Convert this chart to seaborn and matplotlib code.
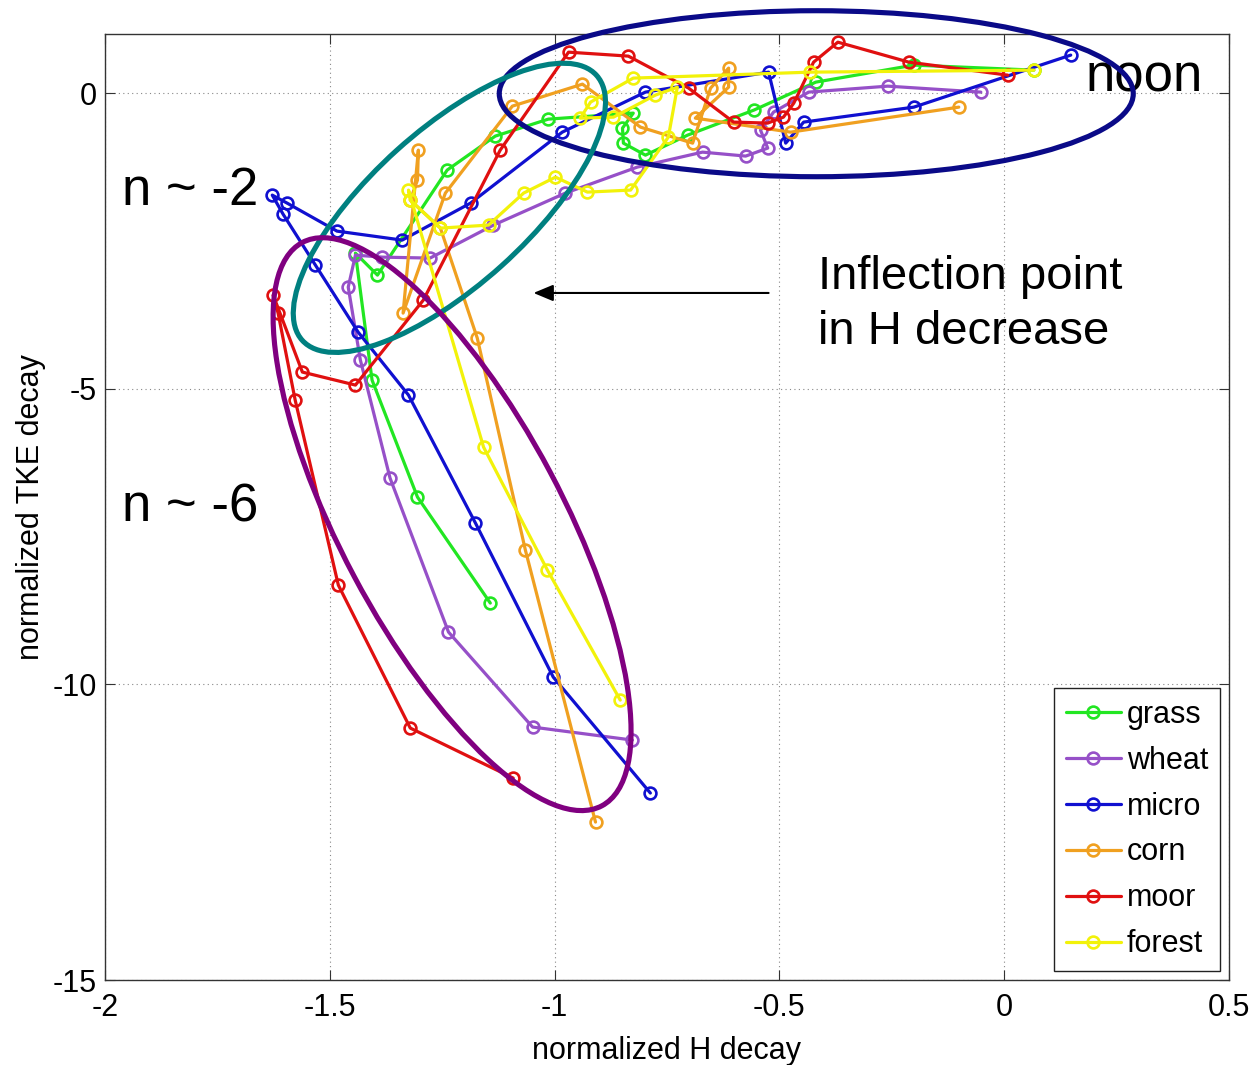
import matplotlib
matplotlib.use("Agg")
import matplotlib.pyplot as plt
import pandas as pd
import seaborn as sns
from matplotlib.lines import Line2D
from matplotlib.patches import Ellipse
from matplotlib.transforms import IdentityTransform

# ---- data: normalized H decay (x) vs normalized TKE decay (y), noon -> evening ----
sites = ["grass", "wheat", "micro", "corn", "moor", "forest"]
site_colors = ["#22e622", "#9650c8", "#1010d0", "#f0a020", "#e01010", "#f2f20a"]

grass_h = [0.066, -0.201, -0.419, -0.557, -0.704, -0.798, -0.847, -0.849, -0.825,
           -1.014, -1.132, -1.239, -1.394, -1.443, -1.406, -1.305, -1.143]
grass_tke = [0.389, 0.474, 0.186, -0.288, -0.710, -1.049, -0.846, -0.592, -0.338,
             -0.440, -0.727, -1.302, -3.078, -2.706, -4.854, -6.832, -8.625]

wheat_h = [-0.052, -0.259, -0.435, -0.513, -0.542, -0.526, -0.575, -0.671, -0.816,
           -0.976, -1.136, -1.277, -1.383, -1.443, -1.459, -1.432, -1.366, -1.236,
           -1.049, -0.827]
wheat_tke = [0.017, 0.118, 0.017, -0.321, -0.626, -0.930, -1.065, -0.998, -1.251,
             -1.691, -2.232, -2.790, -2.774, -2.740, -3.281, -4.515, -6.511, -9.115,
             -10.722, -10.942]

micro_h = [0.148, -0.201, -0.446, -0.486, -0.524, -0.798, -0.983, -1.187, -1.339,
           -1.484, -1.595, -1.628, -1.604, -1.532, -1.437, -1.325, -1.176, -1.003,
           -0.787]
micro_tke = [0.643, -0.237, -0.490, -0.846, 0.355, 0.017, -0.660, -1.860, -2.486,
             -2.334, -1.860, -1.725, -2.046, -2.909, -4.042, -5.107, -7.272, -9.877,
             -11.838]

corn_h = [-0.101, -0.475, -0.687, -0.613, -0.613, -0.653, -0.693, -0.809, -0.938,
          -1.094, -1.243, -1.337, -1.303, -1.305, -1.321, -1.254, -1.172, -1.065,
          -0.909]
corn_tke = [-0.237, -0.660, -0.423, 0.101, 0.423, 0.085, -0.846, -0.575, 0.152,
            -0.220, -1.691, -3.721, -0.964, -1.471, -1.810, -2.283, -4.143, -7.729,
            -12.329]

moor_h = [0.008, -0.212, -0.370, -0.424, -0.468, -0.491, -0.526, -0.602, -0.702,
          -0.836, -0.969, -1.121, -1.292, -1.443, -1.561, -1.626, -1.615, -1.577,
          -1.481, -1.321, -1.092]
moor_tke = [0.304, 0.524, 0.862, 0.524, -0.169, -0.406, -0.507, -0.490, 0.085,
            0.626, 0.693, -0.964, -3.501, -4.938, -4.718, -3.416, -3.721, -5.192,
            -8.321, -10.739, -11.585]

forest_h = [0.066, -0.431, -0.825, -0.920, -0.943, -0.869, -0.776, -0.727, -0.747,
            -0.831, -0.927, -0.998, -1.069, -1.147, -1.254, -1.321, -1.325, -1.158,
            -1.016, -0.854]
forest_tke = [0.389, 0.355, 0.254, -0.152, -0.423, -0.406, -0.034, 0.101, -0.744,
              -1.640, -1.674, -1.421, -1.691, -2.232, -2.283, -1.810, -1.640, -5.987,
              -8.067, -10.266]

x_ticks = [-2, -1.5, -1, -0.5, 0, 0.5]
x_tick_labels = ["-2", "-1.5", "-1", "-0.5", "0", "0.5"]
y_ticks = [-15, -10, -5, 0]
y_tick_labels = ["-15", "-10", "-5", "0"]

h_series = [grass_h, wheat_h, micro_h, corn_h, moor_h, forest_h]
tke_series = [grass_tke, wheat_tke, micro_tke, corn_tke, moor_tke, forest_tke]

rows = []
for site, hs, ts in zip(sites, h_series, tke_series):
    for step, (hv, tv) in enumerate(zip(hs, ts)):
        rows.append({"site": site, "step": step, "H": hv, "TKE": tv})
df = pd.DataFrame(rows)

# ---- style ----
sns.set_style("white")
plt.rcParams["font.family"] = ["Liberation Sans", "DejaVu Sans"]
plt.rcParams["axes.unicode_minus"] = False
for key in ("text.color", "axes.labelcolor", "xtick.color", "ytick.color"):
    plt.rcParams[key] = "black"

W, H = 1252, 1065
fig = plt.figure(figsize=(W / 100, H / 100), dpi=100)
ax_l, ax_r, ax_t, ax_b = 105, 1229, 34, 980
ax = fig.add_axes([ax_l / W, 1 - ax_b / H, (ax_r - ax_l) / W, (ax_b - ax_t) / H])

LW, MS, MEW = 2.3, 8.5, 1.9
palette = dict(zip(sites, site_colors))
sns.lineplot(data=df, x="H", y="TKE", hue="site", hue_order=sites, palette=palette,
             sort=False, estimator=None, marker="o", markersize=MS, linewidth=LW,
             ax=ax, legend=False)

for ln in ax.lines:
    c = ln.get_color()
    ln.set_markeredgecolor(c)
    ln.set_markerfacecolor("none")
    ln.set_markeredgewidth(MEW)

ax.set_xlim(-2, 0.5)
ax.set_ylim(-15, 1)
ax.set_xticks(x_ticks)
ax.set_xticklabels(x_tick_labels)
ax.set_yticks(y_ticks)
ax.set_yticklabels(y_tick_labels)
ax.tick_params(axis="both", which="both", direction="in", length=7, width=0.8,
               color="#333333", labelcolor="black", labelsize=22, top=True,
               right=True, bottom=True, left=True)
ax.tick_params(axis="x", pad=9)
ax.tick_params(axis="y", pad=6)
ax.grid(True, linestyle=(0, (1, 3)), color="#888888", linewidth=0.8)
for sp in ax.spines.values():
    sp.set_visible(True)
    sp.set_color("#333333")
    sp.set_linewidth(1.0)

ax.set_xlabel("normalized H decay", fontsize=22, va="top", color="black")
ax.set_ylabel("normalized TKE decay", fontsize=22, color="black")
ax.xaxis.set_label_coords(0.5, -(1036 - ax_b) / (ax_b - ax_t))
ax.yaxis.set_label_coords(-(ax_l - 46) / (ax_r - ax_l), 0.5)

# ---- legend ----
handles = [Line2D([], [], color=c, marker="o", markersize=MS, markerfacecolor="none",
                  markeredgecolor=c, markeredgewidth=MEW, linewidth=LW)
           for c in site_colors]
leg = ax.legend(handles, sites, loc="lower right", fontsize=22, frameon=True,
                fancybox=False, framealpha=1, edgecolor="#222222",
                handlelength=1.8, handletextpad=0.2, labelspacing=0.52,
                borderpad=0.4, borderaxespad=0.28, numpoints=1)
leg.get_frame().set_linewidth(1.0)
for t in leg.get_texts():
    t.set_color("black")
leg.set_zorder(10)

# ---- regime ellipses (sizes in pixels, centres in data units) ----
def ring(cx, cy, a_px, b_px, angle, color):
    x0, y0 = ax.transData.transform((cx, cy))
    e = Ellipse((x0, y0), 2 * a_px, 2 * b_px, angle=angle,
                transform=IdentityTransform(), fill=False, edgecolor=color,
                linewidth=3.7, clip_on=False, zorder=6)
    fig.add_artist(e)

ring(-0.418, -0.01, 317, 83, 0, "#0a0a88")
ring(-1.234, -1.94, 198, 78, 42, "#008080")
ring(-1.228, -7.29, 319, 111, -62, "#800080")

# ---- annotations ----
ax.text(0.18, 0.02, "noon", fontsize=38, ha="left", va="baseline", zorder=7)
ax.text(-1.962, -1.894, "n ~ -2", fontsize=38, ha="left", va="baseline")
ax.text(-1.962, -7.24, "n ~ -6", fontsize=38, ha="left", va="baseline")
ax.text(-0.415, -3.315, "Inflection point", fontsize=34, ha="left", va="baseline")
ax.text(-0.415, -4.245, "in H decrease", fontsize=34, ha="left", va="baseline")
ax.annotate("", xy=(-1.047, -3.38), xytext=(-0.524, -3.38),
            arrowprops=dict(arrowstyle="-|>,head_length=0.6,head_width=0.25",
                            color="black", lw=1.5, mutation_scale=20,
                            shrinkA=0, shrinkB=0))

fig.savefig("out.png", dpi=100, facecolor="white")
